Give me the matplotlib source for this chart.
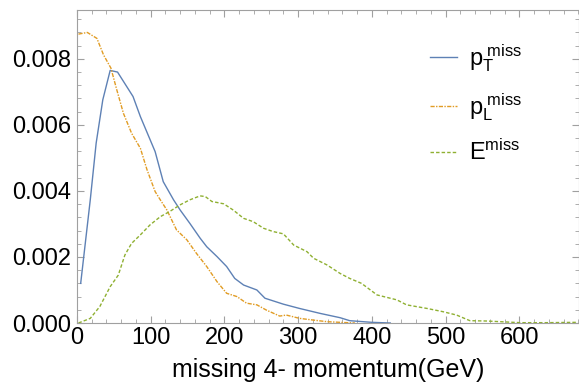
import matplotlib.pyplot as plt
from matplotlib.ticker import MultipleLocator

plt.rcParams['font.family'] = ['Liberation Sans', 'DejaVu Sans']
plt.rcParams['mathtext.fontset'] = 'custom'
plt.rcParams['mathtext.rm'] = 'Liberation Sans'
plt.rcParams['mathtext.it'] = 'Liberation Sans'

# missing pT
pt_x = [5, 18, 26, 35, 45, 55, 76, 86, 106, 117, 131, 140, 153, 167, 176, 190,
        203, 214, 226, 244, 255, 280, 302, 330, 357, 370, 400, 425]
pt_y = [0.0012, 0.00373, 0.00545, 0.00676, 0.00765, 0.00760, 0.00686, 0.00625,
        0.00519, 0.00428, 0.00373, 0.00342, 0.00302, 0.00257, 0.00231, 0.00201,
        0.00171, 0.00135, 0.00115, 0.00100, 0.00075, 0.00057, 0.00044, 0.00029,
        0.00016, 0.00007, 0.00002, 0.0]

# missing pL
pl_x = [2, 14, 27, 36, 46, 54, 63, 74, 86, 95, 106, 113, 122, 135, 149, 162,
        176, 190, 203, 217, 230, 244, 257, 275, 284, 302, 320, 339, 357, 377]
pl_y = [0.00875, 0.0088, 0.00862, 0.00812, 0.00772, 0.00706, 0.00635, 0.00575,
        0.00529, 0.00464, 0.00398, 0.00373, 0.00342, 0.00282, 0.00252, 0.00211,
        0.00171, 0.00125, 0.00090, 0.00080, 0.00060, 0.00055, 0.00039, 0.00021,
        0.00024, 0.00014, 0.00009, 0.00004, 0.00002, 0.0]

# missing E
e_x = [2, 18, 31, 45, 56, 65, 74, 86, 99, 113, 126, 140, 153, 167, 174, 183,
       199, 212, 226, 239, 253, 266, 280, 294, 312, 321, 339, 357, 370, 386,
       407, 434, 447, 475, 497, 515, 533, 556, 583, 601, 637, 677]
e_y = [0.0, 0.00014, 0.0005, 0.0011, 0.00145, 0.00206, 0.00241, 0.00267,
       0.00297, 0.00322, 0.00338, 0.00358, 0.00373, 0.00385, 0.00383, 0.00368,
       0.00361, 0.00342, 0.00317, 0.00307, 0.00287, 0.00277, 0.00270, 0.00236,
       0.00216, 0.00196, 0.00176, 0.00150, 0.00135, 0.00120, 0.00085, 0.00070,
       0.00055, 0.00044, 0.00034, 0.00024, 0.00007, 0.00006, 0.00003, 0.00001,
       0.00001, 0.00002]

fig = plt.figure(figsize=(5.79, 3.85), dpi=100)
ax = fig.add_axes([77/579, 62/385, 502/579, 313/385])

ax.plot(pt_x, pt_y, color='#5E81B5', lw=1.0, ls='-', label=r'$\mathregular{p_T^{\ miss}}$')
ax.plot(pl_x, pl_y, color='#E19C24', lw=1.0, ls=(0, (3, 1, 1, 1)), label=r'$\mathregular{p_L^{\ miss}}$')
ax.plot(e_x, e_y, color='#8FB032', lw=1.0, ls=(0, (2.5, 1.5)), label=r'$\mathregular{E^{miss}}$')

ax.set_xlim(0, 681)
ax.set_ylim(0, 0.00948)
ax.xaxis.set_major_locator(MultipleLocator(100))
ax.xaxis.set_minor_locator(MultipleLocator(20))
ax.yaxis.set_major_locator(MultipleLocator(0.002))
ax.yaxis.set_minor_locator(MultipleLocator(0.0004))
ax.yaxis.set_major_formatter(plt.FormatStrFormatter('%.3f'))

for s in ax.spines.values():
    s.set_color('#a0a0a0')
ax.tick_params(which='both', direction='in', colors='#a0a0a0', labelcolor='black',
               top=True, right=True, labelsize=17)
ax.tick_params(which='major', length=5)
ax.tick_params(axis='x', which='major', pad=3)
ax.tick_params(axis='y', which='major', pad=4)
ax.tick_params(which='minor', length=3)

ax.set_xlabel('missing 4- momentum(GeV)', fontsize=18, labelpad=6)

ax.legend(loc='upper left', bbox_to_anchor=(0.66, 0.965), frameon=False, fontsize=17,
          handlelength=1.15, labelspacing=0.72, handletextpad=0.5)

fig.savefig('out.png', dpi=100)
